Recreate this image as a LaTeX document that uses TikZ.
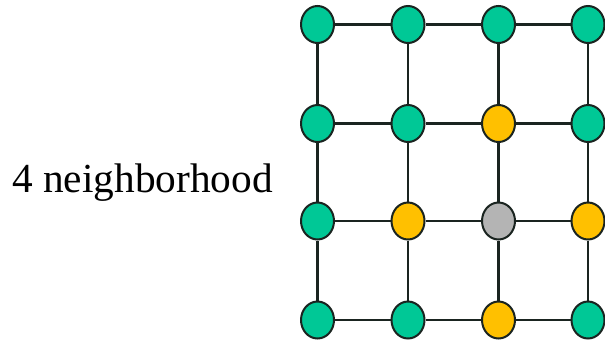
\documentclass[tikz,border=0pt]{standalone}
\usepackage{fontspec}
\setmainfont{Liberation Serif}
\usetikzlibrary{shapes.geometric}
\definecolor{dotgreen}{HTML}{00C896}
\definecolor{dotyellow}{HTML}{FFC000}
\definecolor{dotgray}{HTML}{B4B4B4}
\definecolor{edge}{HTML}{1A2420}
\begin{document}
\begin{tikzpicture}[x=0.75pt,y=-0.75pt,
  pixel/.style={ellipse,draw=edge,line width=1.5pt,minimum width=33*0.75pt,minimum height=37*0.75pt,inner sep=0pt},
  green/.style={pixel,fill=dotgreen},
  yellow/.style={pixel,fill=dotyellow},
  gray/.style={pixel,fill=dotgray},
  link/.style={draw=edge,line width=1.6pt}]
\useasboundingbox (0,0) rectangle (605,339);
% column and row positions of the grid
\def\ca{317.5}\def\cb{408}\def\cc{498.5}\def\cd{588}
\def\ra{24.5}\def\rb{123.5}\def\rc{221}\def\rd{320}
% pixels
\node[green]  (p11) at (\ca,\ra) {};
\node[green]  (p12) at (\cb,\ra) {};
\node[green]  (p13) at (\cc,\ra) {};
\node[green]  (p14) at (\cd,\ra) {};
\node[green]  (p21) at (\ca,\rb) {};
\node[green]  (p22) at (\cb,\rb) {};
\node[yellow] (p23) at (\cc,\rb) {};
\node[green]  (p24) at (\cd,\rb) {};
\node[green]  (p31) at (\ca,\rc) {};
\node[yellow] (p32) at (\cb,\rc) {};
\node[gray]   (p33) at (\cc,\rc) {};
\node[yellow] (p34) at (\cd,\rc) {};
\node[green]  (p41) at (\ca,\rd) {};
\node[green]  (p42) at (\cb,\rd) {};
\node[yellow] (p43) at (\cc,\rd) {};
\node[green]  (p44) at (\cd,\rd) {};
% grid links between neighbouring pixels
\foreach \r in {1,...,4}{
  \foreach \c/\n in {1/2,2/3,3/4}{
    \draw[link] (p\r\c) -- (p\r\n);
  }
}
\foreach \c in {1,...,4}{
  \foreach \r/\n in {1/2,2/3,3/4}{
    \draw[link] (p\r\c) -- (p\n\c);
  }
}
% caption
\node[anchor=base,font=\fontsize{31}{36}\selectfont,inner sep=0pt] (cap) at (142.5,192.7) {4 neighborhood};
\end{tikzpicture}
\end{document}
